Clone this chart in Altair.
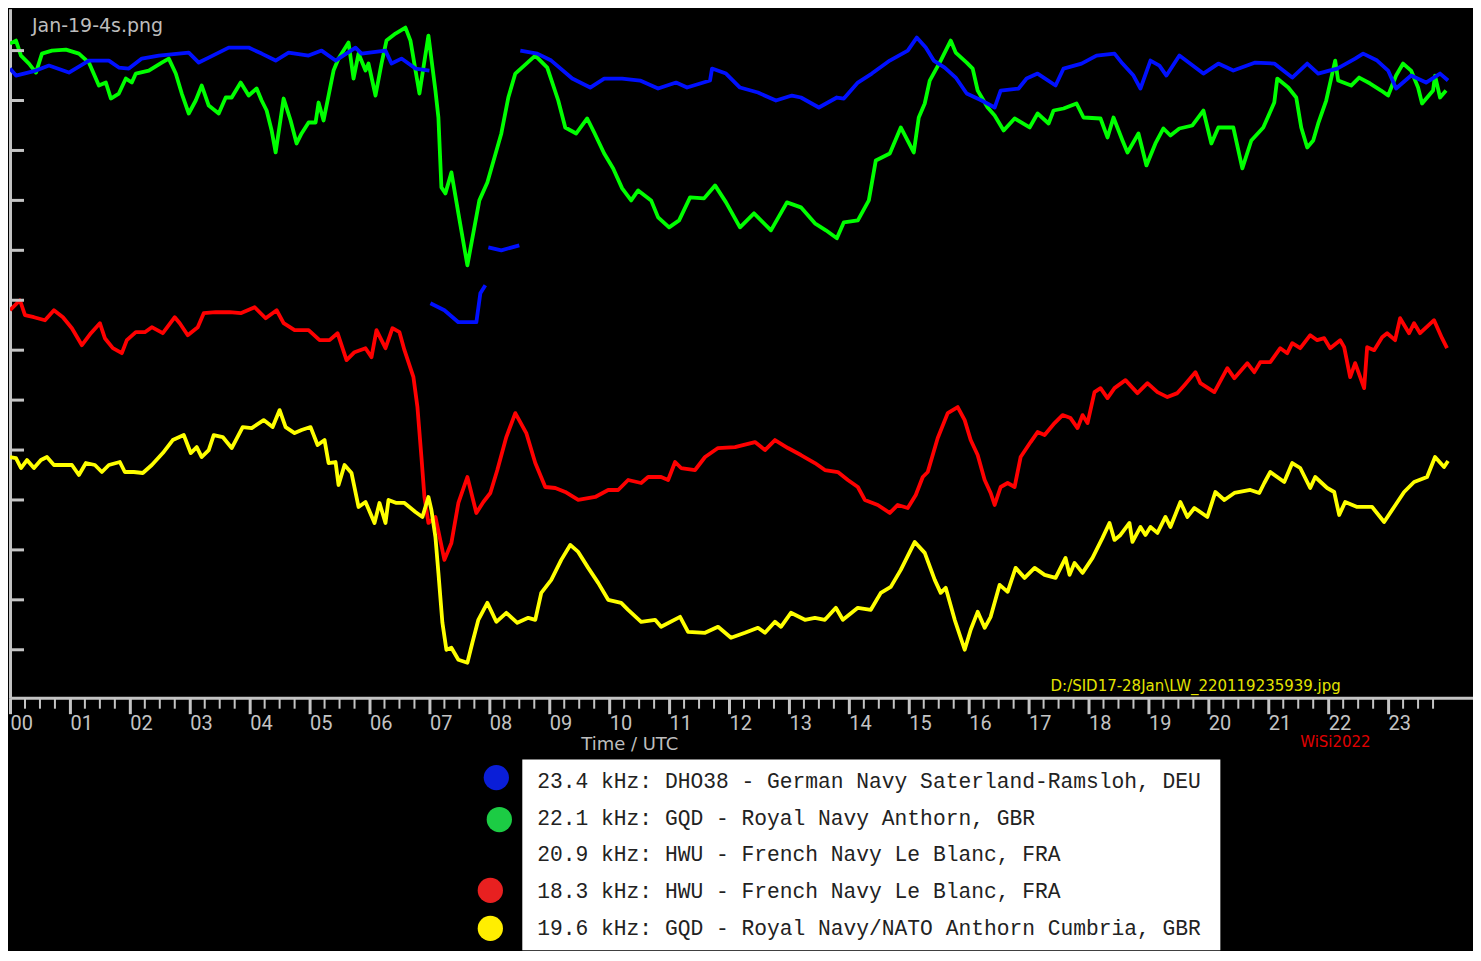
import altair as alt
import pandas as pd

# ---- data: time in minutes after 00:00 UTC, relative signal level (dB, arbitrary reference)
blue_t = [0, 6, 26, 39, 59, 79, 99, 109, 119, 132, 149, 179, 189, 199, 219, 239, 252, 266, 279, 299,
          312, 326, 346, 352, 376, 382, 392, 406, 420,
          421, 435, 449, 467, 471, 476,
          479, 492, 510,
          511, 528, 542, 563, 581, 595, 613, 631, 649, 667, 678, 701, 703, 717, 731, 749, 767, 783, 792,
          810, 828, 835, 849, 863, 881, 899, 908, 917, 925, 936, 947, 958, 973, 986, 992, 1010, 1018,
          1029, 1047, 1055, 1073, 1088, 1106, 1114, 1125, 1132, 1142, 1151, 1158, 1171, 1195, 1210,
          1225, 1247, 1266, 1284, 1299, 1310, 1321, 1329, 1347, 1355, 1369, 1380, 1388, 1403, 1418,
          1432, 1440]
blue_v = [-6.8, -7.5, -7.0, -6.5, -7.2, -6.0, -6.0, -6.7, -6.8, -5.8, -5.5, -5.2, -6.2, -5.7, -4.7, -4.7,
          -5.3, -6.0, -5.2, -5.5, -5.0, -6.0, -4.7, -5.3, -5.0, -6.3, -5.8, -6.8, -7.0,
          -30.3, -31.0, -32.2, -32.2, -29.3, -28.5,
          -24.7, -25.0, -24.5,
          -5.0, -5.3, -6.0, -7.8, -8.7, -7.8, -7.8, -8.0, -8.8, -8.2, -8.7, -8.0, -6.8, -7.3, -8.7, -9.2,
          -10.0, -9.5, -9.7, -10.7, -9.7, -9.8, -8.2, -7.3, -6.0, -5.0, -3.7, -4.7, -6.0, -6.7, -7.7,
          -9.3, -10.0, -10.7, -9.0, -8.8, -7.8, -7.3, -8.5, -6.8, -6.3, -5.5, -5.3, -6.3, -7.5, -8.8,
          -6.0, -6.5, -7.5, -5.5, -7.3, -6.3, -7.0, -6.2, -6.3, -7.7, -6.3, -7.3, -7.0, -6.8, -5.8,
          -5.3, -6.0, -7.0, -8.8, -7.5, -8.2, -7.3, -8.0]
blue_seg = [1] * 29 + [2] * 6 + [3] * 3 + [4] * 70

green_t = [0, 6, 11, 19, 26, 32, 42, 56, 69, 79, 89, 96, 101, 109, 116, 122, 126, 139, 152, 159, 166,
           172, 179, 186, 192, 199, 209, 216, 222, 231, 239, 247, 252, 257, 262, 266, 274, 281, 287,
           292, 299, 306, 309, 314, 319, 324, 329, 339, 344, 349, 356, 359, 366, 372, 377, 386, 396,
           401, 410, 414, 419, 426, 429, 432, 436, 442, 449, 458, 470, 478, 492, 499, 506, 526, 538,
           549, 556, 567, 578, 585, 595, 604, 613, 622, 629, 642, 649, 660, 670, 681, 695, 706, 717,
           731, 745, 762, 778, 792, 806, 817, 828, 835, 849, 860, 867, 881, 892, 905, 910, 916, 921,
           932, 942, 947, 958, 964, 969, 979, 986, 995, 1006, 1021, 1029, 1040, 1045, 1055, 1068,
           1075, 1092, 1099, 1105, 1114, 1119, 1130, 1138, 1147, 1155, 1162, 1171, 1184, 1195, 1203,
           1210, 1225, 1234, 1243, 1255, 1266, 1269, 1280, 1288, 1293, 1299, 1305, 1310, 1318, 1327,
           1330, 1343, 1351, 1362, 1373, 1380, 1388, 1395, 1403, 1410, 1414, 1425, 1427, 1432, 1438]
green_v = [-4.3, -4.0, -5.5, -6.3, -7.2, -5.3, -5.0, -4.9, -5.3, -6.2, -8.5, -8.2, -9.8, -9.3, -7.8,
           -8.2, -7.3, -7.0, -6.2, -5.8, -7.3, -9.3, -11.3, -10.0, -8.5, -10.5, -11.3, -9.7, -9.7,
           -8.2, -9.5, -8.8, -10.0, -11.0, -13.0, -15.2, -9.8, -12.0, -14.3, -13.3, -12.2, -12.2,
           -10.2, -12.0, -9.5, -7.0, -5.8, -4.2, -7.8, -5.3, -7.0, -6.3, -9.5, -6.3, -4.0, -3.3, -2.7,
           -4.0, -9.3, -6.7, -3.5, -9.0, -11.7, -18.7, -19.3, -17.2, -21.3, -26.5, -20.0, -18.2,
           -13.3, -9.7, -7.3, -5.5, -6.7, -10.0, -12.7, -13.3, -11.8, -13.2, -15.3, -16.8, -18.8,
           -20.0, -19.0, -20.0, -21.7, -22.7, -22.0, -19.7, -19.8, -18.5, -20.2, -22.7, -21.3, -23.0,
           -20.2, -20.7, -22.3, -23.0, -23.8, -22.2, -22.0, -20.0, -16.0, -15.3, -12.7, -15.2, -11.7,
           -10.3, -8.0, -6.0, -4.0, -5.2, -6.2, -6.8, -9.0, -10.7, -11.5, -13.0, -11.8, -12.7, -11.3,
           -12.3, -11.0, -10.8, -10.3, -11.7, -11.8, -13.7, -11.7, -14.0, -15.2, -13.3, -16.5, -14.3,
           -12.8, -13.5, -12.8, -12.5, -11.0, -14.3, -12.7, -12.7, -16.8, -14.0, -12.7, -10.2, -7.8,
           -8.7, -9.7, -12.7, -14.7, -14.0, -12.3, -10.0, -6.0, -8.0, -8.5, -7.7, -8.3, -9.0, -9.5,
           -7.5, -6.3, -7.0, -8.7, -10.3, -9.0, -7.5, -9.7, -9.0]

red_t = [0, 10, 15, 24, 35, 44, 53, 62, 72, 81, 90, 95, 103, 112, 117, 126, 135, 142, 153, 165, 170,
         178, 188, 194, 206, 220, 231, 245, 256, 267, 274, 285, 299, 310, 320, 328, 337, 345, 356, 362,
         367, 376, 383, 390, 395, 404, 408, 412, 415, 419, 426, 435, 442, 449, 458, 467, 474, 481, 488,
         497, 506, 517, 526, 536, 546, 556, 569, 586, 599, 609, 619, 632, 639, 652, 659, 666, 672, 686,
         696, 709, 726, 746, 756, 766, 779, 792, 806, 816, 829, 839, 849, 856, 869, 881, 889, 899, 907,
         914, 919, 929, 939, 949, 956, 962, 969, 976, 982, 986, 992, 999, 1006, 1012, 1022, 1029, 1036,
         1046, 1054, 1062, 1069, 1074, 1079, 1086, 1092, 1099, 1106, 1117, 1129, 1139, 1149, 1159,
         1169, 1176, 1187, 1192, 1206, 1219, 1226, 1239, 1246, 1252, 1262, 1272, 1279, 1284, 1292,
         1302, 1309, 1316, 1322, 1332, 1336, 1342, 1347, 1356, 1359, 1366, 1374, 1379, 1387, 1392,
         1401, 1406, 1412, 1426, 1434, 1439]
red_v = [-31.0, -30.0, -31.5, -31.7, -32.0, -31.0, -31.7, -32.8, -34.5, -33.3, -32.3, -33.8, -34.8,
         -35.3, -34.0, -33.2, -33.2, -32.7, -33.3, -31.7, -32.3, -33.5, -32.7, -31.3, -31.2, -31.2,
         -31.3, -30.7, -31.8, -31.0, -32.3, -33.0, -33.0, -34.0, -34.0, -33.3, -36.0, -35.2, -34.8,
         -35.7, -33.0, -34.8, -32.8, -33.2, -35.0, -37.7, -40.7, -45.7, -49.7, -52.3, -51.7, -56.0,
         -54.3, -50.3, -47.7, -51.3, -50.2, -49.3, -47.0, -43.7, -41.3, -43.3, -46.3, -48.7, -48.8,
         -49.2, -50.0, -49.7, -49.0, -49.0, -48.0, -48.3, -47.7, -47.7, -48.0, -46.2, -46.8, -47.0,
         -45.7, -44.8, -44.7, -44.2, -45.0, -44.0, -44.8, -45.5, -46.3, -47.0, -47.2, -48.0, -48.7,
         -50.0, -50.5, -51.3, -50.5, -50.8, -49.5, -47.7, -47.2, -43.8, -41.3, -40.7, -42.0, -44.0,
         -45.5, -48.0, -49.3, -50.5, -48.7, -48.3, -48.7, -45.7, -44.2, -43.2, -43.5, -42.3, -41.5,
         -41.8, -42.8, -41.5, -42.3, -39.2, -38.8, -39.8, -38.8, -38.0, -39.3, -38.3, -39.2, -39.7,
         -39.3, -38.5, -37.2, -38.3, -39.2, -36.8, -37.8, -36.3, -37.2, -36.2, -36.2, -34.8, -35.3,
         -34.3, -34.8, -33.5, -34.0, -33.8, -34.8, -34.0, -34.7, -37.7, -36.3, -38.8, -34.7, -35.0,
         -33.7, -33.3, -34.0, -31.8, -33.3, -32.3, -33.3, -32.0, -33.8, -34.8]

yellow_t = [0, 6, 11, 17, 24, 31, 37, 44, 51, 62, 69, 76, 85, 92, 99, 110, 115, 124, 133, 142, 153,
            163, 174, 181, 187, 192, 199, 204, 213, 222, 233, 242, 254, 263, 270, 276, 285, 292, 301,
            308, 315, 319, 326, 329, 335, 342, 349, 356, 365, 370, 376, 379, 387, 395, 406, 413, 419,
            422, 426, 429, 433, 437, 442, 449, 458, 463, 469, 478, 487, 497, 508, 519, 526, 532, 542,
            552, 561, 569, 579, 589, 599, 612, 619, 632, 646, 652, 671, 679, 696, 709, 722, 736, 749,
            756, 766, 772, 782, 796, 806, 816, 827, 834, 849, 862, 872, 882, 892, 906, 916, 926, 932,
            937, 946, 956, 962, 969, 976, 982, 991, 999, 1007, 1016, 1026, 1036, 1047, 1057, 1061,
            1066, 1074, 1084, 1094, 1101, 1106, 1112, 1121, 1124, 1132, 1137, 1142, 1149, 1157, 1162,
            1172, 1179, 1186, 1199, 1207, 1216, 1226, 1242, 1251, 1256, 1262, 1276, 1284, 1292, 1302,
            1307, 1319, 1326, 1331, 1337, 1349, 1364, 1376, 1386, 1396, 1406, 1419, 1427, 1436, 1440]
yellow_v = [-45.7, -45.8, -46.8, -46.0, -46.8, -46.0, -45.7, -46.5, -46.5, -46.5, -47.5, -46.3, -46.5,
            -47.2, -46.5, -46.2, -47.2, -47.2, -47.3, -46.5, -45.3, -44.0, -43.5, -45.3, -44.7, -45.7,
            -45.0, -43.5, -43.7, -44.8, -42.7, -42.8, -42.0, -42.7, -41.0, -42.7, -43.3, -43.0, -42.7,
            -44.5, -44.0, -46.3, -46.2, -48.5, -46.5, -47.3, -50.7, -50.2, -52.3, -50.3, -52.3, -50.0,
            -50.3, -50.3, -51.2, -51.7, -49.7, -51.0, -53.7, -57.3, -62.3, -65.0, -64.8, -66.0, -66.3,
            -64.3, -62.0, -60.3, -62.2, -61.3, -62.3, -61.8, -62.0, -59.3, -58.0, -56.0, -54.5, -55.2,
            -56.8, -58.3, -60.0, -60.3, -61.0, -62.2, -62.0, -62.7, -61.7, -63.2, -63.3, -62.7, -63.8,
            -63.3, -62.8, -63.3, -62.2, -62.7, -61.3, -62.0, -61.8, -62.0, -60.8, -62.0, -60.8, -61.0,
            -59.3, -58.7, -57.0, -54.2, -55.3, -58.0, -59.3, -58.8, -62.0, -65.0, -63.0, -61.2, -62.8,
            -61.7, -58.5, -59.2, -56.8, -57.8, -56.8, -57.5, -57.8, -55.8, -57.5, -56.3, -57.3, -55.8,
            -53.8, -52.3, -54.0, -53.5, -52.3, -54.2, -52.7, -53.5, -52.7, -53.3, -51.7, -52.7, -50.2,
            -51.7, -50.8, -51.7, -49.2, -50.0, -49.3, -49.0, -49.3, -48.3, -47.2, -48.2, -46.3, -46.8,
            -48.8, -47.7, -48.8, -49.2, -51.5, -50.2, -50.7, -50.7, -52.2, -50.7, -49.2, -48.2, -47.7,
            -45.7, -46.7, -46.1]

series_names = ["23.4 kHz DHO38", "22.1 kHz GQD", "18.3 kHz HWU", "19.6 kHz GQD"]
series_colors = ["#0010ff", "#00ff00", "#ff0000", "#ffff00"]

legend_lines = [
    "23.4 kHz: DHO38 - German Navy Saterland-Ramsloh, DEU",
    "22.1 kHz: GQD - Royal Navy Anthorn, GBR",
    "20.9 kHz: HWU - French Navy Le Blanc, FRA",
    "18.3 kHz: HWU - French Navy Le Blanc, FRA",
    "19.6 kHz: GQD - Royal Navy/NATO Anthorn Cumbria, GBR",
]
legend_dot_colors = ["#0a1ed8", "#1ccc44", None, "#e82020", "#ffee00"]

hour_labels = list(range(24))
level_ticks = [-5, -10, -15, -20, -25, -30, -35, -40, -45, -50, -55, -60, -65]

# ---- build table
rows = []
def add(name, ts, vs, segs=None):
    for i, (t, v) in enumerate(zip(ts, vs)):
        rows.append({"hour": t / 60.0, "level": v, "series": name,
                     "seg": f"{name}-{segs[i] if segs else 0}"})

add(series_names[1], green_t, green_v)
add(series_names[0], blue_t, blue_v, blue_seg)
add(series_names[2], red_t, red_v)
add(series_names[3], yellow_t, yellow_v)
df = pd.DataFrame(rows)

W, H = 1465, 690
GREY = "#c4c4c4"
x_scale = alt.Scale(domain=[0, W / 60.0], nice=False, zero=False)
y_scale = alt.Scale(domain=[-69.8, -0.8], nice=False, zero=False)
x_axis = alt.Axis(values=hour_labels, format="02d", tickSize=16, tickWidth=3,
                  tickColor=GREY, domainColor=GREY, domainWidth=3,
                  labelColor=GREY, labelFont="Roboto", labelFontSize=20,
                  labelAlign="left", labelPadding=0, labelFlush=False,
                  labelOverlap=False, grid=False, title=None)
y_axis = alt.Axis(ticks=False, labels=False, grid=False, domainColor=GREY,
                  domainWidth=3, title=None)

lines = alt.Chart(df).mark_line(strokeWidth=3.8, strokeJoin="round", clip=True).encode(
    x=alt.X("hour:Q", scale=x_scale, axis=x_axis),
    y=alt.Y("level:Q", scale=y_scale, axis=y_axis),
    color=alt.Color("series:N", scale=alt.Scale(domain=series_names, range=series_colors),
                    legend=None),
    detail="seg:N",
    order="hour:Q",
)

# minor ticks on the time axis (every 15 minutes)
minor = pd.DataFrame({"hour": [q / 4 for q in range(1, 96) if q % 4 != 0]})
minor_rules = alt.Chart(minor).mark_rule(color=GREY, strokeWidth=2).encode(
    x=alt.X("hour:Q", scale=x_scale, axis=x_axis),
    y=alt.value(H), y2=alt.value(H + 11),
)

# inward ticks on the level axis
ytk = pd.DataFrame({"level": level_ticks})
y_rules = alt.Chart(ytk).mark_rule(color=GREY, strokeWidth=3).encode(
    y=alt.Y("level:Q", scale=y_scale, axis=y_axis),
    x=alt.value(0), x2=alt.value(14),
)

one = pd.DataFrame({"a": [0]})

def label(text, x, y, size, color, font="DejaVu Sans", align="left"):
    return alt.Chart(one).mark_text(text=text, align=align, baseline="middle",
                                    fontSize=size, font=font, color=color).encode(
        x=alt.value(x), y=alt.value(y))

texts = [
    label("Jan-19-4s.png", 22, 17, 19, "#bdbdbd"),
    label("D:/SID17-28Jan\\LW_220119235939.jpg", 1042, 678, 15, "#e4e400"),
    label("Time / UTC", 572, 737, 18, "#bdbdbd"),
    label("WiSi2022", 1292, 734, 15, "#e00000"),
]

legend_box = alt.Chart(one).mark_rect(color="white").encode(
    x=alt.value(513), x2=alt.value(1212), y=alt.value(752), y2=alt.value(943))

row_y = [774, 811, 848, 885, 922]
dot_pos = [(487, 770), (490, 812), None, (481, 883), (481, 921)]
legend_layers = [legend_box]
for i, line in enumerate(legend_lines):
    legend_layers.append(label(line, 528, row_y[i], 21.3, "#222222", font="Liberation Mono"))
    if legend_dot_colors[i]:
        px, py = dot_pos[i]
        legend_layers.append(
            alt.Chart(one).mark_point(shape="circle", filled=True, size=640, opacity=1,
                                      color=legend_dot_colors[i]).encode(
                x=alt.value(px), y=alt.value(py)))

chart = alt.layer(lines, minor_rules, y_rules, *texts, *legend_layers).properties(
    width=W, height=H, padding=0, background="black",
).configure_view(stroke=None)

chart.save("out.html", embed_options={"renderer": "svg", "actions": False})
